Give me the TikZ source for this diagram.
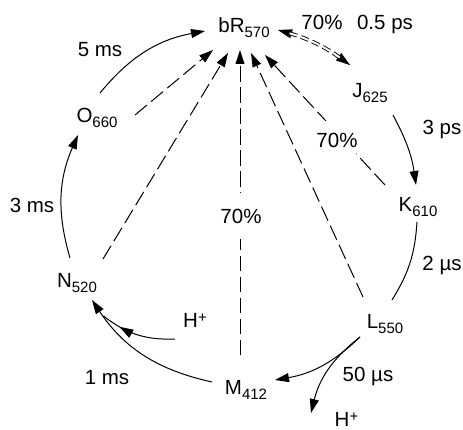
\documentclass[tikz,border=0pt]{standalone}
\usepackage{fontspec}
\setmainfont{Liberation Sans}
\usetikzlibrary{arrows.meta,decorations.markings}
\newcommand{\sbs}[1]{\raisebox{-5pt}{\fontsize{15}{15}\selectfont #1}}
\newcommand{\sps}[1]{\raisebox{4.5pt}{\fontsize{15}{15}\selectfont #1}}
\begin{document}
\begin{tikzpicture}[x=1pt,y=1pt,
  every node/.style={font=\fontsize{20.5}{24}\selectfont, inner sep=0pt},
  state/.style={anchor=base},
  lbl/.style={anchor=base},
  tipstyle/.style={-{Triangle[length=14pt,width=9pt]}},
  flow/.style={line width=1pt, tipstyle},
  back/.style={line width=1pt, tipstyle, dash pattern=on 15.5pt off 5.5pt},
  cut/.style={circle, fill=white, inner sep=1pt},
]
\useasboundingbox (0,0) rectangle (463,429);

% states
\node[state] (bR) at (244,396) {bR\sbs{570}};
\node[state] (J) at (370,331) {J\sbs{625}};
\node[state] (K) at (418,218) {K\sbs{610}};
\node[state] (L) at (385,101) {L\sbs{550}};
\node[state] (M) at (246,35) {M\sbs{412}};
\node[state] (N) at (77,142) {N\sbs{520}};
\node[state] (O) at (97,306) {O\sbs{660}};
\node[lbl] (Hn) at (195,102) {H\sps{+}};
\node[lbl] (Hb) at (346.5,3) {H\sps{+}};

% labels
\node[lbl] (t5ms) at (100,372) {5 ms};
\node[lbl] (t3ms) at (32,216) {3 ms};
\node[lbl] (t1ms) at (107,45) {1 ms};
\node[lbl] (t50us) at (368,48) {50 µs};
\node[lbl] (t2us) at (442,159) {2 µs};
\node[lbl] (t3ps) at (442,294) {3 ps};
\node[lbl] (pJ) at (322,399) {70\%};
\node[lbl] (t05ps) at (385,399) {0.5 ps};

% cycle
\draw[flow] ([shift={(3,30)}]O.base) to[bend left=20] ([shift={(-39,2)}]bR.base);
\draw[flow] ([shift={(-7,29)}]N.base) to[bend left=20] ([shift={(-19,-12)}]O.base);
\draw[flow] ([shift={(-34,12)}]M.base) to[bend left=22] coordinate[pos=0.88] (mnj) ([shift={(15,-13)}]N.base);
\draw[line width=1pt, postaction={decorate},
  decoration={markings, mark=at position 0.75 with {\arrow{Triangle[length=14pt,width=9pt]}}}]
  ([shift={(-20,-12)}]Hn.base) to[bend left=20] (mnj);
\draw[flow] ([shift={(-25,-9)}]L.base) to[bend left=17] ([shift={(29,14)}]M.base);
\draw[flow] ([shift={(-25,-9)}]L.base) to[bend right=19] ([shift={(-35.5,13)}]Hb.base);
\draw[line width=1pt] ([shift={(-1,-11)}]K.base) to[bend left=14] ([shift={(7,28)}]L.base);
\draw[flow] ([shift={(23,-17)}]J.base) to[bend left=10] ([shift={(-2,26)}]K.base);

% double dashed bR <-> J
\draw[white, line width=0.3pt,
  {Triangle[length=14pt,width=9pt,color=black]}-{Triangle[length=14pt,width=9pt,color=black]}]
  ([shift={(34,3)}]bR.base) to[bend left=10] ([shift={(-20,33)}]J.base);
\draw[line width=0.9pt, double distance=2pt, dash pattern=on 8pt off 4pt,
  shorten <=12pt, shorten >=12pt]
  ([shift={(34,3)}]bR.base) to[bend left=10] ([shift={(-20,33)}]J.base);

% dashed returns to bR
\draw[back] ([shift={(38,8)}]O.base) -- ([shift={(-31,-17)}]bR.base);
\draw[back] ([shift={(26,28)}]N.base) -- ([shift={(-16,-20)}]bR.base);
\draw[back] ([shift={(-6,39)}]M.base) -- ([shift={(-4,-17)}]bR.base);
\draw[back] ([shift={(-22,31)}]L.base) -- ([shift={(7,-20)}]bR.base);
\draw[back] ([shift={(-33,26)}]K.base) -- ([shift={(21,-22)}]bR.base);

\node[lbl, cut] (pK) at (337,281) {70\%};
\node[lbl, cut] (pM) at (241,206) {70\%};
\end{tikzpicture}
\end{document}
